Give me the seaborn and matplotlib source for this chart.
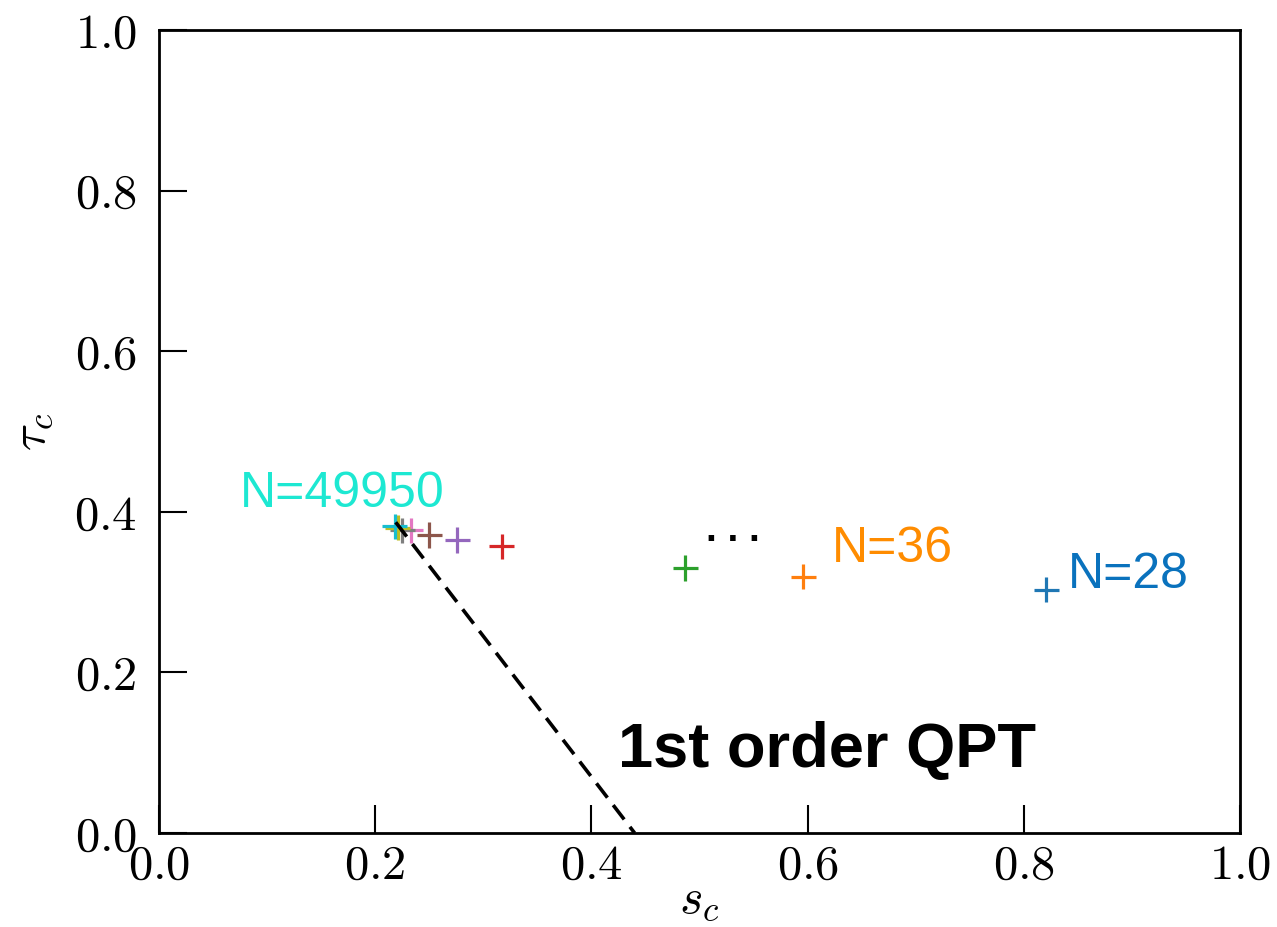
import matplotlib
matplotlib.use("Agg")
import matplotlib.pyplot as plt
import numpy as np
import pandas as pd
import seaborn as sns

# critical points (s_c, tau_c) for increasing system size, smallest first
series = ["N=28", "N=36", "n3", "n4", "n5", "n6", "n7", "n8", "n9", "N=49950"]
s_c = [0.821, 0.596, 0.487, 0.317, 0.276, 0.250, 0.233, 0.225, 0.221, 0.218]
tau_c = [0.303, 0.319, 0.330, 0.357, 0.365, 0.371, 0.377, 0.377, 0.380, 0.382]

# first-order transition line
line_s = [0.219, 0.440]
line_tau = [0.387, 0.0]

ticks = [0.0, 0.2, 0.4, 0.6, 0.8, 1.0]
tick_labels = ["$0.0$", "$0.2$", "$0.4$", "$0.6$", "$0.8$", "$1.0$"]

sns.set_style("ticks")
plt.rcParams["font.family"] = ["Liberation Sans", "DejaVu Sans"]
plt.rcParams["mathtext.fontset"] = "cm"
plt.rcParams["text.color"] = "black"
plt.rcParams["axes.labelcolor"] = "black"
plt.rcParams["xtick.color"] = "black"
plt.rcParams["ytick.color"] = "black"

df = pd.DataFrame({"s": s_c, "tau": tau_c, "series": series})
palette = sns.color_palette("tab10", len(series))

fig = plt.figure(figsize=(12.77, 9.27), dpi=100)
ax = fig.add_axes([0.1245, 0.1014, 0.8465, 0.8662])

sns.scatterplot(data=df, x="s", y="tau", hue="series", palette=palette,
                marker="+", s=330, linewidth=2.3, legend=False, ax=ax, zorder=3)
sns.lineplot(x=line_s, y=line_tau, color="black", linestyle=(0, (5, 2.6)),
             linewidth=2.6, ax=ax, zorder=4)

ax.set_xlim(0, 1)
ax.set_ylim(0, 1)
ax.set_xticks(ticks)
ax.set_xticklabels(tick_labels)
ax.set_yticks(ticks)
ax.set_yticklabels(tick_labels)
ax.tick_params(direction="in", length=20, width=1.5, labelsize=35, pad=8,
               top=False, right=False, colors="black")
ax.tick_params(axis="y", pad=16)
for sp in ax.spines.values():
    sp.set_linewidth(2.0)
    sp.set_color("black")

ax.set_xlabel("$s_c$", fontsize=36, labelpad=-9)
ax.set_ylabel(r"$\tau_c$", fontsize=36, labelpad=14)

ax.text(0.075, 0.406, "N=49950", color="#1de8d2", fontsize=36, ha="left", va="baseline")
ax.text(0.6226, 0.3375, "N=36", color="#ff8c00", fontsize=36, ha="left", va="baseline")
ax.text(0.841, 0.305, "N=28", color="#0a72bd", fontsize=36, ha="left", va="baseline")
ax.text(0.506, 0.364, ". . .", color="black", fontsize=28, fontweight="bold",
        ha="left", va="baseline")
ax.text(0.4246, 0.082, "1st order QPT", color="black", fontsize=45.5,
        fontweight="bold", ha="left", va="baseline")

fig.savefig("out.png", dpi=100)
